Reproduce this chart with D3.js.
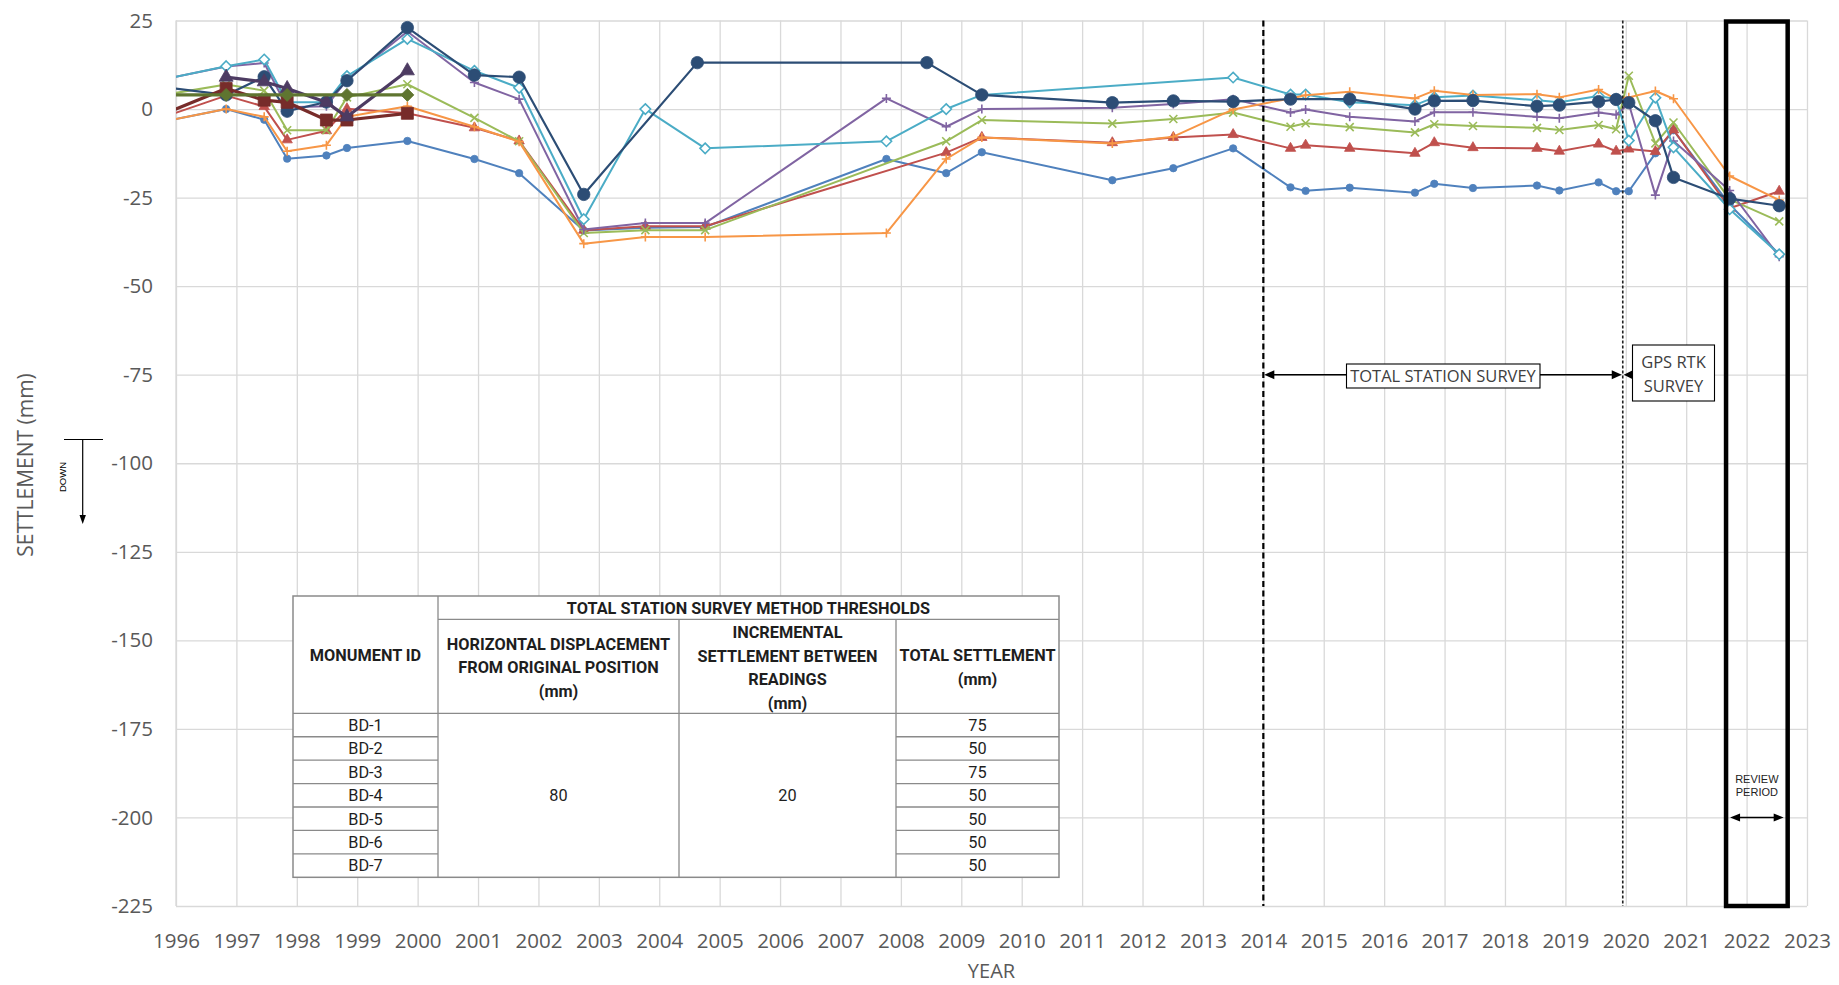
<!DOCTYPE html>
<html>
<head>
<meta charset="utf-8">
<script src="https://cdn.jsdelivr.net/npm/d3@7"></script>
<style>
  body { margin: 0; background: #fff; }
  svg { display: block; }
</style>
</head>
<body>
<svg id="chart" width="1839" height="985"></svg>
<script>
// ---- survey readings: [decimal year, settlement in mm] ----
const bd1 = [[1995.8,-3.5],[1996.83,0],[1997.46,-3.0],[1997.84,-14.0],[1998.49,-13.1],[1998.83,-11.0],[1999.83,-9.0],[2000.94,-14.1],[2001.68,-18.1],[2002.75,-34.3],[2003.77,-33.5],[2004.76,-33.3],[2007.76,-14.1],[2008.75,-18.1],[2009.34,-12.2],[2011.50,-20.1],[2012.51,-16.7],[2013.50,-11.1],[2014.45,-22.1],[2014.70,-23.1],[2015.43,-22.2],[2016.51,-23.6],[2016.83,-21.1],[2017.47,-22.3],[2018.53,-21.6],[2018.90,-23.0],[2019.55,-20.7],[2019.84,-23.2],[2020.05,-23.2],[2020.49,-12.5],[2020.79,-6.0],[2021.72,-27.0],[2022.54,-41.0]];
const bd2 = [[1995.8,-2.2],[1996.83,3.8],[1997.46,0.7],[1997.84,-8.7],[1998.49,-6.1],[1998.83,0.1],[1999.83,-1.2],[2000.94,-5.3],[2001.68,-9.0],[2002.75,-34.2],[2003.77,-33.1],[2004.76,-33.1],[2008.75,-12.3],[2009.34,-8.0],[2011.50,-9.5],[2012.51,-8.0],[2013.50,-7.2],[2014.45,-11.1],[2014.70,-10.2],[2015.43,-11.1],[2016.51,-12.5],[2016.83,-9.5],[2017.47,-10.9],[2018.53,-11.1],[2018.90,-11.9],[2019.55,-9.9],[2019.84,-11.9],[2020.05,-11.3],[2020.49,-12.0],[2020.79,-5.9],[2021.72,-28.0],[2022.54,-23.2]];
const bd3 = [[1995.8,4.0],[1996.83,6.9],[1997.46,5.2],[1997.84,-6.0],[1998.49,-6.0],[1998.83,3.3],[1999.83,7.0],[2000.94,-2.5],[2001.68,-9.1],[2002.75,-35.0],[2003.77,-34.2],[2004.76,-34.2],[2008.75,-9.1],[2009.34,-3.1],[2011.50,-4.1],[2012.51,-2.8],[2013.50,-1.0],[2014.45,-5.0],[2014.70,-4.0],[2015.43,-5.1],[2016.51,-6.6],[2016.83,-4.3],[2017.47,-4.8],[2018.53,-5.3],[2018.90,-5.9],[2019.55,-4.5],[2019.84,-5.7],[2020.05,9.4],[2020.49,-9.7],[2020.79,-3.8],[2021.72,-25.5],[2022.54,-31.7]];
const bd4 = [[1995.8,8.4],[1996.83,12.0],[1997.46,13.0],[1997.84,0.5],[1998.49,0.8],[1998.83,8.2],[1999.83,21.9],[2000.94,7.5],[2001.68,2.8],[2002.75,-34.0],[2003.77,-32.2],[2004.76,-32.2],[2007.76,3.0],[2008.75,-5.0],[2009.34,0.0],[2011.50,0.4],[2012.51,1.4],[2013.50,2.8],[2014.45,-1.0],[2014.70,-0.1],[2015.43,-2.2],[2016.51,-3.5],[2016.83,-0.9],[2017.47,-0.9],[2018.53,-2.2],[2018.90,-2.6],[2019.55,-1.0],[2019.84,-1.6],[2020.05,1.5],[2020.49,-24.3],[2020.79,-9.0],[2021.72,-23.0],[2022.54,-41.7]];
const bd5 = [[1995.8,8.4],[1996.83,12.1],[1997.46,14.0],[1997.84,1.9],[1998.49,1.9],[1998.83,9.3],[1999.83,19.8],[2000.94,10.8],[2001.68,6.0],[2002.75,-31.1],[2003.77,0.0],[2004.76,-11.1],[2007.76,-9.1],[2008.75,0.0],[2009.34,4.0],[2013.50,8.9],[2014.45,4.1],[2014.70,4.1],[2015.43,1.9],[2016.51,1.1],[2016.83,3.3],[2017.47,3.8],[2018.53,2.5],[2018.90,1.9],[2019.55,3.7],[2019.84,2.8],[2020.05,-8.9],[2020.49,3.2],[2020.79,-10.8],[2021.72,-28.3],[2022.54,-41.0]];
const bd6 = [[1995.8,-3.5],[1996.83,0.0],[1997.46,-2.2],[1997.84,-11.9],[1998.49,-10.2],[1998.83,-2.2],[1999.83,0.8],[2000.94,-5.0],[2001.68,-9.2],[2002.75,-38.0],[2003.77,-36.1],[2004.76,-36.1],[2007.76,-35.0],[2008.75,-14.1],[2009.34,-8.0],[2011.50,-9.7],[2012.51,-7.8],[2013.50,-0.1],[2014.45,3.0],[2014.70,3.9],[2015.43,4.9],[2016.51,3.0],[2016.83,5.2],[2017.47,4.0],[2018.53,4.2],[2018.90,3.3],[2019.55,5.5],[2019.84,2.8],[2020.05,3.3],[2020.49,5.1],[2020.79,2.9],[2021.72,-18.9],[2022.54,-25.7]];
const bd7 = [[1995.8,6.2],[1996.83,4.0],[1997.46,9.1],[1997.84,-0.6],[1998.49,2.0],[1998.83,8.0],[1999.83,23.0],[2000.94,9.6],[2001.68,9.0],[2002.75,-24.1],[2004.63,13.1],[2008.43,13.1],[2009.34,4.0],[2011.50,1.8],[2012.51,2.3],[2013.50,2.1],[2014.45,2.8],[2015.43,2.8],[2016.51,0.0],[2016.83,2.3],[2017.47,2.4],[2018.53,0.8],[2018.90,1.1],[2019.55,2.1],[2019.84,2.7],[2020.05,1.8],[2020.49,-3.3],[2020.79,-19.3],[2021.72,-25.3],[2022.54,-27.3]];
// early monuments, discontinued after 1999
const em1 = [[1995.8,-1.4],[1996.83,5.8],[1997.46,2.5],[1997.84,1.9],[1998.49,-3.1],[1998.83,-3.1],[1999.83,-1.2]];
const em2 = [[1996.83,9.0],[1997.46,7.7],[1997.84,5.8],[1998.49,1.9],[1998.83,-2.2],[1999.83,10.8]];
const em3 = [[1995.8,4.0],[1996.83,4.0],[1997.84,4.0],[1998.83,4.0],[1999.83,4.0]];

// ---- axes ----
const years = d3.range(1996, 2024);
const yTicks = d3.range(-225, 26, 25);

// ---- survey periods ----
const totalStationStart = 2014.0;
const gpsStart = 2019.95;
const reviewStart = 2021.66, reviewEnd = 2022.68;

// ---- threshold table ----
const monumentIds = ["BD-1","BD-2","BD-3","BD-4","BD-5","BD-6","BD-7"];
const totalSettlement = [75, 50, 75, 50, 50, 50, 50];
const horizontalDisplacement = 80;
const incrementalSettlement = 20;

// ---------------------------------------------------------------
const svg = d3.select("#chart");
const plot = { left: 176, right: 1807, top: 20.5, bottom: 906 };
const x = d3.scaleLinear().domain([1996, 2023]).range([plot.left, plot.right]);
const y = d3.scaleLinear().domain([-225, 25]).range([plot.bottom, plot.top]);
const axisFont = "'Open Sans', 'Noto Sans', sans-serif";

svg.append("rect").attr("width", 1839).attr("height", 985).attr("fill", "#fff");

// gridlines
const gx = svg.append("g").attr("transform", `translate(0,${plot.bottom})`)
  .call(d3.axisBottom(x).tickValues(years).tickSize(-(plot.bottom - plot.top)).tickFormat(""));
const gy = svg.append("g").attr("transform", `translate(${plot.left},0)`)
  .call(d3.axisLeft(y).tickValues(yTicks).tickSize(-(plot.right - plot.left)).tickFormat(""));
[gx, gy].forEach(g => {
  g.select(".domain").remove();
  g.selectAll("line").attr("stroke", "#d9d9d9").attr("stroke-width", 1.3);
});
svg.append("line").attr("x1", plot.left).attr("x2", plot.left)
  .attr("y1", plot.top).attr("y2", plot.bottom).attr("stroke", "#d9d9d9").attr("stroke-width", 1.3);

// tick labels (plain hyphen for negatives)
const xl = svg.append("g").attr("transform", `translate(0,${plot.bottom})`)
  .call(d3.axisBottom(x).tickValues(years).tickSize(0).tickPadding(27).tickFormat(d => String(d)));
const yl = svg.append("g").attr("transform", `translate(${plot.left},0)`)
  .call(d3.axisLeft(y).tickValues(yTicks).tickSize(0).tickPadding(23).tickFormat(d => String(d)));
[xl, yl].forEach(g => {
  g.select(".domain").remove();
  g.selectAll("text").attr("fill", "#595959").style("font-family", axisFont).style("font-size", "20.5px");
});

// axis titles
svg.append("text").attr("x", (plot.left + plot.right) / 2).attr("y", 978)
  .attr("text-anchor", "middle").attr("fill", "#595959")
  .style("font-family", axisFont).style("font-size", "20px").text("YEAR");
svg.append("text").attr("transform", "translate(33,465) rotate(-90)")
  .attr("text-anchor", "middle").attr("fill", "#595959")
  .style("font-family", axisFont).style("font-size", "21px").text("SETTLEMENT (mm)");

// "down" indicator next to the axis title
function arrowHead(g, px, py, dir, len, half) {
  // dir: "right" | "left" | "down"
  let p;
  if (dir === "right") p = `M${px},${py}L${px - len},${py - half}L${px - len},${py + half}Z`;
  else if (dir === "left") p = `M${px},${py}L${px + len},${py - half}L${px + len},${py + half}Z`;
  else p = `M${px},${py}L${px - half},${py - len}L${px + half},${py - len}Z`;
  g.append("path").attr("d", p).attr("fill", "#000");
}
const down = svg.append("g");
down.append("line").attr("x1", 64).attr("x2", 103).attr("y1", 439.5).attr("y2", 439.5)
  .attr("stroke", "#000").attr("stroke-width", 1.2);
down.append("line").attr("x1", 82.7).attr("x2", 82.7).attr("y1", 439.5).attr("y2", 516)
  .attr("stroke", "#000").attr("stroke-width", 1.2);
arrowHead(down, 82.7, 524, "down", 9, 3.2);
down.append("text").attr("transform", "translate(66,477) rotate(-90)")
  .attr("text-anchor", "middle").style("font-family", "'Liberation Sans', Arial, sans-serif")
  .style("font-size", "9.5px").attr("fill", "#000").text("DOWN");

// ---- series ----
const clip = svg.append("defs").append("clipPath").attr("id", "plotClip");
clip.append("rect").attr("x", plot.left).attr("y", 0)
  .attr("width", plot.right - plot.left).attr("height", plot.bottom);

function markerPath(type, s) {
  switch (type) {
    case "circle": return d3.symbol(d3.symbolCircle, Math.PI * s * s)();
    case "triangle": return d3.symbol(d3.symbolTriangle, s * s * Math.sqrt(3))();
    case "square": return d3.symbol(d3.symbolSquare, 4 * s * s)();
    case "diamond": return `M0,${-s}L${s},0L0,${s}L${-s},0Z`;
    case "plus": return `M${-s},0H${s}M0,${-s}V${s}`;
    case "x": return `M${-s},${-s}L${s},${s}M${-s},${s}L${s},${-s}`;
  }
}

const seriesList = [
  { data: bd1, color: "#4F81BD", width: 2,   marker: "circle",   size: 3.7, fill: "color" },
  { data: bd2, color: "#C0504D", width: 2,   marker: "triangle", size: 5.2, fill: "color" },
  { data: bd3, color: "#9BBB59", width: 2,   marker: "x",        size: 4,   fill: "none"  },
  { data: bd4, color: "#8064A2", width: 2,   marker: "plus",     size: 4.5, fill: "none"  },
  { data: bd5, color: "#4BACC6", width: 2,   marker: "diamond",  size: 5.2, fill: "#fff"  },
  { data: bd6, color: "#F79646", width: 2,   marker: "plus",     size: 4.5, fill: "none"  },
  { data: bd7, color: "#2C4D75", width: 2.2, marker: "circle",   size: 6.2, fill: "color" },
  { data: em1, color: "#772C2A", width: 3.2, marker: "square",   size: 6,   fill: "color" },
  { data: em2, color: "#4D3B62", width: 3.2, marker: "triangle", size: 7,   fill: "color" },
  { data: em3, color: "#5F7530", width: 3.2, marker: "diamond",  size: 6.5, fill: "color" }
];

const line = d3.line().x(d => x(d[0])).y(d => y(d[1]));
const marks = svg.append("g").attr("clip-path", "url(#plotClip)");

seriesList.forEach(s => {
  const g = marks.append("g");
  g.append("path").datum(s.data).attr("d", line)
    .attr("fill", "none").attr("stroke", s.color).attr("stroke-width", s.width)
    .attr("stroke-linejoin", "round");
  const mp = markerPath(s.marker, s.size);
  g.selectAll("path.m").data(s.data).join("path").attr("class", "m")
    .attr("transform", d => `translate(${x(d[0])},${y(d[1])})`)
    .attr("d", mp)
    .attr("fill", s.fill === "color" ? s.color : s.fill)
    .attr("stroke", s.color)
    .attr("stroke-width", s.fill === "color" ? 0.8 : 1.6);
});

// ---- survey method boundaries ----
svg.append("line").attr("x1", x(totalStationStart)).attr("x2", x(totalStationStart))
  .attr("y1", plot.top).attr("y2", plot.bottom)
  .attr("stroke", "#000").attr("stroke-width", 2.2).attr("stroke-dasharray", "6,3.5");
svg.append("line").attr("x1", x(gpsStart)).attr("x2", x(gpsStart))
  .attr("y1", plot.top).attr("y2", plot.bottom)
  .attr("stroke", "#222").attr("stroke-width", 1.6).attr("stroke-dasharray", "3,2");

// total station arrow + label
const ann = svg.append("g");
const arrowY = y(-75);
ann.append("line").attr("x1", x(totalStationStart) + 8).attr("x2", x(gpsStart) - 8)
  .attr("y1", arrowY).attr("y2", arrowY).attr("stroke", "#000").attr("stroke-width", 1.6);
arrowHead(ann, x(totalStationStart) + 1, arrowY, "left", 10, 4.5);
arrowHead(ann, x(gpsStart) - 1, arrowY, "right", 10, 4.5);
ann.append("rect").attr("x", 1346.5).attr("y", 364).attr("width", 193.5).attr("height", 24)
  .attr("fill", "#fff").attr("stroke", "#000").attr("stroke-width", 1.1);
ann.append("text").attr("x", 1443).attr("y", 382).attr("text-anchor", "middle")
  .attr("fill", "#404040").style("font-family", axisFont).style("font-size", "16.5px")
  .text("TOTAL STATION SURVEY");

// GPS label
arrowHead(ann, x(gpsStart) + 1, arrowY, "left", 9, 4.5);
ann.append("rect").attr("x", 1632.5).attr("y", 345).attr("width", 82).attr("height", 56)
  .attr("fill", "#fff").attr("stroke", "#000").attr("stroke-width", 1.1);
ann.append("text").attr("x", 1673.5).attr("y", 368).attr("text-anchor", "middle")
  .attr("fill", "#404040").style("font-family", axisFont).style("font-size", "16.5px").text("GPS RTK");
ann.append("text").attr("x", 1673.5).attr("y", 391.5).attr("text-anchor", "middle")
  .attr("fill", "#404040").style("font-family", axisFont).style("font-size", "16.5px").text("SURVEY");

// review period box
const rx0 = x(reviewStart), rx1 = x(reviewEnd);
ann.append("rect").attr("x", rx0).attr("y", plot.top + 1).attr("width", rx1 - rx0)
  .attr("height", plot.bottom - plot.top - 1)
  .attr("fill", "none").attr("stroke", "#000").attr("stroke-width", 4.5);
const revY = y(-200);
ann.append("line").attr("x1", rx0 + 12).attr("x2", rx1 - 12).attr("y1", revY).attr("y2", revY)
  .attr("stroke", "#000").attr("stroke-width", 1.4);
arrowHead(ann, rx0 + 4, revY, "left", 10, 4);
arrowHead(ann, rx1 - 4, revY, "right", 10, 4);
ann.append("text").attr("x", (rx0 + rx1) / 2).attr("y", 782.5).attr("text-anchor", "middle")
  .style("font-family", "'Liberation Sans', Arial, sans-serif").style("font-size", "11px")
  .attr("fill", "#222").text("REVIEW");
ann.append("text").attr("x", (rx0 + rx1) / 2).attr("y", 796).attr("text-anchor", "middle")
  .style("font-family", "'Liberation Sans', Arial, sans-serif").style("font-size", "11px")
  .attr("fill", "#222").text("PERIOD");

// ---- thresholds table ----
const tbl = svg.append("g");
const tf = "Roboto, 'Noto Sans', sans-serif";
const T = { x0: 293, x1: 438, x2: 679, x3: 896, x4: 1059, y0: 596, y1: 619.3, y2: 713.3, rowH: 23.43 };
const tBottom = T.y2 + monumentIds.length * T.rowH;
const lineColor = "#8a8a8a";
tbl.append("rect").attr("x", T.x0).attr("y", T.y0).attr("width", T.x4 - T.x0)
  .attr("height", tBottom - T.y0).attr("fill", "#fff").attr("stroke", lineColor).attr("stroke-width", 1.5);
function tl(x1, y1, x2, y2) {
  tbl.append("line").attr("x1", x1).attr("y1", y1).attr("x2", x2).attr("y2", y2)
    .attr("stroke", lineColor).attr("stroke-width", 1.3);
}
tl(T.x1, T.y0, T.x1, tBottom);
tl(T.x2, T.y1, T.x2, tBottom);
tl(T.x3, T.y1, T.x3, tBottom);
tl(T.x1, T.y1, T.x4, T.y1);
tl(T.x0, T.y2, T.x4, T.y2);
monumentIds.forEach((id, i) => {
  if (i === 0) return;
  const yy = T.y2 + i * T.rowH;
  tl(T.x0, yy, T.x1, yy);
  tl(T.x3, yy, T.x4, yy);
});
function tt(txt, cx, cy, bold) {
  tbl.append("text").attr("x", cx).attr("y", cy).attr("dy", "0.36em").attr("text-anchor", "middle")
    .attr("fill", "#1e1e1e").style("font-family", tf).style("font-size", bold ? "16.3px" : "16.3px")
    .style("font-weight", bold ? "700" : "400").text(txt);
}
tt("TOTAL STATION SURVEY METHOD THRESHOLDS", (T.x1 + T.x4) / 2, 608, true);
tt("MONUMENT ID", (T.x0 + T.x1) / 2, 655, true);
["HORIZONTAL DISPLACEMENT", "FROM ORIGINAL POSITION", "(mm)"].forEach((s, i) =>
  tt(s, (T.x1 + T.x2) / 2, 644 + i * 23.4, true));
["INCREMENTAL", "SETTLEMENT BETWEEN", "READINGS", "(mm)"].forEach((s, i) =>
  tt(s, (T.x2 + T.x3) / 2, 632.5 + i * 23.4, true));
["TOTAL SETTLEMENT", "(mm)"].forEach((s, i) =>
  tt(s, (T.x3 + T.x4) / 2, 655.6 + i * 23.4, true));
monumentIds.forEach((id, i) => {
  const cy = T.y2 + (i + 0.5) * T.rowH;
  tt(id, (T.x0 + T.x1) / 2, cy, false);
  tt(String(totalSettlement[i]), (T.x3 + T.x4) / 2, cy, false);
});
tt(String(horizontalDisplacement), (T.x1 + T.x2) / 2, (T.y2 + tBottom) / 2, false);
tt(String(incrementalSettlement), (T.x2 + T.x3) / 2, (T.y2 + tBottom) / 2, false);
</script>
</body>
</html>
